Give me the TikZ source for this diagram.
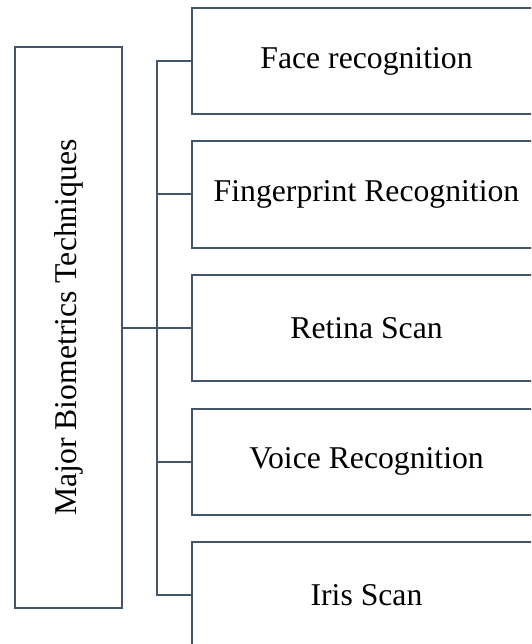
\documentclass[tikz,border=0pt]{standalone}
\usepackage{fontspec}
\setmainfont{Liberation Serif}
\definecolor{edgeblue}{HTML}{44546A}
\begin{document}
\begin{tikzpicture}[x=1pt,y=-1pt,
  every node/.style={font=\fontsize{31.7}{38}\selectfont, text=black},
  techbox/.style={draw=edgeblue, line width=2pt, rectangle, fill=white,
    minimum width=349pt, minimum height=106pt, inner sep=0pt},
  rootbox/.style={draw=edgeblue, line width=2pt, rectangle, fill=white,
    minimum width=107pt, minimum height=561pt, inner sep=0pt},
  link/.style={draw=edgeblue, line width=2pt}]
  \useasboundingbox (0,0) rectangle (531,644);
  \clip (0,0) rectangle (531,644);
  \fill[white] (0,0) rectangle (531,644);

  % root box with vertical label
  \node[rootbox] (root) at (68.5,327.5) {};
  \node[rotate=90] (rootlabel) at (root.center) {Major Biometrics Techniques};

  % technique boxes
  \node[techbox] (b1) at (366.5,61)    {Face recognition};
  \node[techbox] (b2) at (366.5,194.5) {Fingerprint Recognition};
  \node[techbox] (b3) at (366.5,328)   {Retina Scan};
  \node[techbox] (b4) at (366.5,461.5) {Voice Recognition};
  \node[techbox] (b5) at (366.5,595)   {Iris Scan};

  % trunk and branches
  \coordinate (trunkbot) at (157,595);
  \draw[link] (b1.west) -| (trunkbot) -- (b5.west);
  \draw[link] (b2.west) -- (b2.west -| trunkbot);
  \draw[link] (b4.west) -- (b4.west -| trunkbot);
  \draw[link] (root.east |- b3.west) -- (b3.west);
\end{tikzpicture}
\end{document}
